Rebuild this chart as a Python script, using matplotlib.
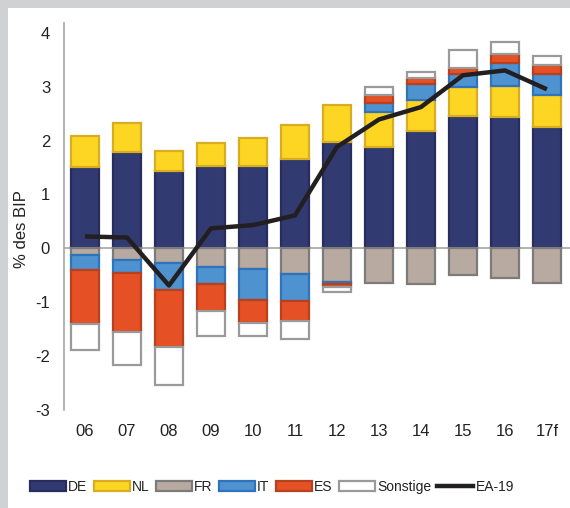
import numpy as np
import matplotlib.pyplot as plt
from matplotlib.patches import Patch
from matplotlib.lines import Line2D

plt.rcParams['font.family'] = ['Liberation Sans', 'DejaVu Sans']
plt.rcParams['axes.unicode_minus'] = False

# Leistungsbilanzsalden Euroraum, Beiträge der Länder in % des BIP
years = ["06", "07", "08", "09", "10", "11", "12", "13", "14", "15", "16", "17f"]

de = [1.51, 1.79, 1.44, 1.52, 1.52, 1.66, 1.97, 1.88, 2.17, 2.45, 2.44, 2.25]
nl = [0.58, 0.54, 0.37, 0.44, 0.53, 0.62, 0.68, 0.65, 0.58, 0.55, 0.58, 0.60]
fr = [-0.13, -0.22, -0.28, -0.35, -0.38, -0.47, -0.63, -0.64, -0.66, -0.49, -0.56, -0.64]
it = [-0.27, -0.23, -0.49, -0.32, -0.57, -0.51, -0.03, 0.17, 0.30, 0.24, 0.41, 0.38]
es = [-1.00, -1.10, -1.06, -0.49, -0.43, -0.36, -0.06, 0.14, 0.11, 0.10, 0.18, 0.18]
sonstige = [-0.48, -0.61, -0.70, -0.46, -0.25, -0.35, -0.10, 0.15, 0.11, 0.34, 0.21, 0.15]
ea19 = [0.22, 0.20, -0.69, 0.37, 0.43, 0.61, 1.88, 2.39, 2.62, 3.21, 3.30, 2.95]

colors = {
    "DE": ("#323a72", "#272d5c"),
    "NL": ("#fdd623", "#d9ad22"),
    "FR": ("#b8aaa0", "#7b7b7b"),
    "IT": ("#4f92d0", "#2f74bb"),
    "ES": ("#e55125", "#b7401f"),
    "Sonstige": ("#ffffff", "#9a9a9c"),
}

fig = plt.figure(figsize=(5.70, 5.08), dpi=100, facecolor="#d0d1d3")

# white panel inside the grey frame
bg = fig.add_axes([8 / 570, 0, 562 / 570, 500 / 508], zorder=-1)
bg.set_facecolor("white")
bg.set_xticks([])
bg.set_yticks([])
for s in bg.spines.values():
    s.set_visible(False)

ax = fig.add_axes([64 / 570, 98 / 508, 506 / 570, 387 / 508])
ax.set_facecolor("none")

x = np.arange(len(years))
w = 0.667
pos_base = np.zeros(len(years))
neg_base = np.zeros(len(years))
series = [("DE", de), ("NL", nl), ("FR", fr), ("IT", it), ("ES", es), ("Sonstige", sonstige)]
for name, vals in series:
    vals = np.array(vals)
    base = np.where(vals >= 0, pos_base, neg_base)
    fc, ec = colors[name]
    ax.bar(x, vals, w, bottom=base, color=fc, edgecolor=ec, linewidth=1.6, zorder=2)
    pos_base = pos_base + np.where(vals >= 0, vals, 0)
    neg_base = neg_base + np.where(vals < 0, vals, 0)

ax.axhline(0, color="#a6a6a6", linewidth=1.2, zorder=1)
ax.plot(x, ea19, color="#231f20", linewidth=3.2, zorder=3, solid_capstyle="butt")

ax.set_xlim(-0.5, 11.55)
ax.set_ylim(-3, 4.18)
ax.set_yticks(range(-3, 5))
ax.set_xticks(x)
ax.set_xticklabels(years)
ax.tick_params(axis="both", length=0, labelsize=12, colors="#222222")
ax.tick_params(axis="y", pad=10)
ax.tick_params(axis="x", pad=10)
for s in ["top", "right", "bottom"]:
    ax.spines[s].set_visible(False)
ax.spines["left"].set_color("#a6a6a6")
ax.spines["left"].set_linewidth(1.2)

fig.text(22 / 570, 1 - 229 / 508, "% des BIP", rotation=90, ha="center", va="center",
         fontsize=12, color="#222222")

handles = [Patch(facecolor=colors[n][0], edgecolor=colors[n][1], linewidth=1.6, label=n)
           for n, _ in series]
handles.append(Line2D([], [], color="#231f20", linewidth=3.2, label="EA-19"))
fig.legend(handles=handles, loc="center", bbox_to_anchor=(272 / 570, 21 / 508), ncol=7,
           frameon=False, fontsize=10, handlelength=2.6, handleheight=0.8,
           handletextpad=0.15, columnspacing=0.45, borderaxespad=0, labelcolor="#222222")

fig.savefig("out.png", dpi=100, facecolor=fig.get_facecolor())
